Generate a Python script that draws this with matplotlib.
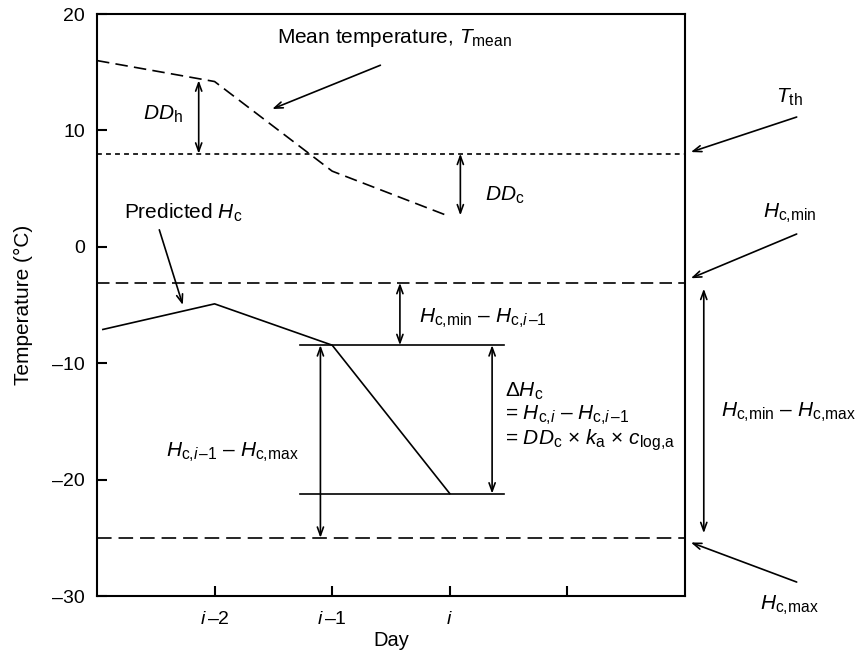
import matplotlib
matplotlib.use("Agg")
import matplotlib.pyplot as plt
import matplotlib._mathtext as mt

plt.rcParams['font.family'] = ['Liberation Sans', 'DejaVu Sans']
plt.rcParams['mathtext.fontset'] = 'custom'
plt.rcParams['mathtext.rm'] = 'Liberation Sans'
plt.rcParams['mathtext.it'] = 'Liberation Sans:italic'
plt.rcParams['mathtext.bf'] = 'Liberation Sans:bold'
plt.rcParams['lines.scale_dashes'] = False
# subscripts in the figure are bigger than mathtext's default
mt.SHRINK_FACTOR = 0.75

# data (x in day units: i-2 = 1, i-1 = 2, i = 3)
tmean_x = [0, 1, 2, 3]
tmean_y = [16.0, 14.2, 6.5, 2.6]
hc_x = [0.05, 1, 2, 3]
hc_y = [-7.1, -4.9, -8.45, -21.2]
t_th = 8.0
hc_min = -3.1
hc_max = -25.0
hc_prev = -8.45
hc_now = -21.2
xticks = [1, 2, 3, 4]
xticklabels = [r'$i\,$–2', r'$i\,$–1', r'$i$', '']
yticks = [-30, -20, -10, 0, 10, 20]
yticklabels = ['–30', '–20', '–10', '0', '10', '20']

fig = plt.figure(figsize=(8.59, 6.58), dpi=100)
ax = fig.add_axes([0.1129, 0.0942, 0.6845, 0.8845])
ax.set_xlim(0, 5)
ax.set_ylim(-30, 20)

lw = 1.2
ax.plot(tmean_x, tmean_y, color='black', lw=lw, dashes=(9, 4.5))
ax.plot(hc_x, hc_y, color='black', lw=lw)
ax.axhline(t_th, color='black', lw=lw, dashes=(3.5, 3))
ax.axhline(hc_min, color='black', lw=lw, dashes=(9, 4.5))
ax.axhline(hc_max, color='black', lw=lw, dashes=(10.5, 5))
ax.plot([1.73, 3.46], [hc_prev, hc_prev], color='black', lw=lw)
ax.plot([1.73, 3.46], [hc_now, hc_now], color='black', lw=lw)

dbl = dict(arrowstyle='<->,head_length=0.6,head_width=0.22', lw=lw, color='black',
           shrinkA=0, shrinkB=0)
one = dict(arrowstyle='->,head_length=0.6,head_width=0.22', lw=lw, color='black',
           shrinkA=0, shrinkB=0)

def arrow(x0, y0, x1, y1, props):
    ax.annotate('', xy=(x1, y1), xytext=(x0, y0), arrowprops=props,
                annotation_clip=False)

# double arrows
arrow(0.865, t_th, 0.865, 14.3, dbl)
arrow(3.09, t_th, 3.09, 2.7, dbl)
arrow(2.576, hc_min, 2.576, hc_prev, dbl)
arrow(3.36, hc_prev, 3.36, hc_now, dbl)
arrow(1.9, hc_prev, 1.9, hc_max, dbl)
arrow(5.16, -3.6, 5.16, -24.6, dbl)

# pointers
arrow(2.41, 15.6, 1.49, 11.84, one)
arrow(0.53, 1.46, 0.73, -5.0, one)
arrow(5.95, 11.15, 5.05, 8.14, one)
arrow(5.95, 1.1, 5.05, -2.7, one)
arrow(5.95, -28.8, 5.05, -25.4, one)

fs = 15
kw = dict(fontsize=fs, va='baseline', clip_on=False)
ax.text(1.53, 17.5, r'Mean temperature, $T_{\mathrm{mean}}$', **kw)
ax.text(0.39, 10.9, r'$DD_{\mathrm{h}}$', **kw)
ax.text(3.3, 4.0, r'$DD_{\mathrm{c}}$', **kw)
ax.text(0.23, 2.39, r'Predicted $H_{\mathrm{c}}$', **kw)
ax.text(2.74, -6.55, r'$H_{\mathrm{c{,}min}}$ – $H_{\mathrm{c{,}}i\,\mathrm{–1}}$', **kw)
ax.text(3.47, -12.9, r'$\Delta H_{\mathrm{c}}$', **kw)
ax.text(3.47, -14.88, r'= $H_{\mathrm{c{,}}i}$ – $H_{\mathrm{c{,}}i\,\mathrm{–1}}$', **kw)
ax.text(3.47, -17.03, r'= $DD_{\mathrm{c}}$ × $k_{\mathrm{a}}$ × $c_{\mathrm{log{,}a}}$', **kw)
ax.text(0.59, -18.06, r'$H_{\mathrm{c{,}}i\,\mathrm{–1}}$ – $H_{\mathrm{c{,}max}}$', **kw)
ax.text(5.31, -14.6, r'$H_{\mathrm{c{,}min}}$ – $H_{\mathrm{c{,}max}}$', **kw)
ax.text(5.77, 12.35, r'$T_{\mathrm{th}}$', **kw)
ax.text(5.66, 2.47, r'$H_{\mathrm{c{,}min}}$', **kw)
ax.text(5.64, -31.2, r'$H_{\mathrm{c{,}max}}$', **kw)

ax.set_xticks(xticks)
ax.set_xticklabels(xticklabels)
ax.set_yticks(yticks)
ax.set_yticklabels(yticklabels)
ax.tick_params(direction='in', length=7, width=1.5, labelsize=14)
ax.tick_params(axis='x', pad=11)
ax.tick_params(axis='y', pad=8.5)
for s in ax.spines.values():
    s.set_linewidth(1.5)
ax.set_xlabel('Day', fontsize=14.5, labelpad=2)
ax.set_ylabel('Temperature (°C)', fontsize=15, labelpad=14)

fig.savefig('out.png', dpi=100)
